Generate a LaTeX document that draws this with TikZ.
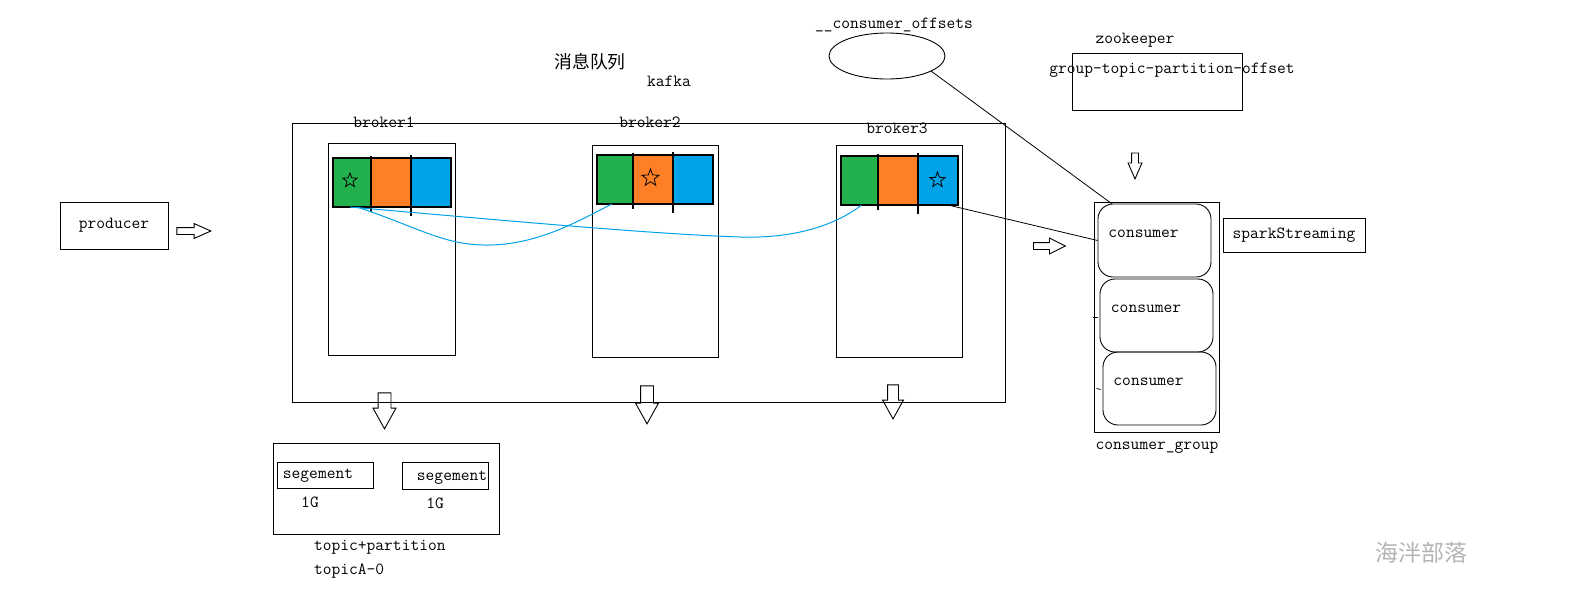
\documentclass[tikz,border=0pt]{standalone}
\usepackage{fontspec}
\newfontfamily\cjk{Noto Sans CJK SC}
\usetikzlibrary{arrows.meta, positioning, shapes.geometric, shapes.arrows}
\definecolor{kgreen}{HTML}{22B14C}
\definecolor{korange}{HTML}{FF7F27}
\definecolor{kblue}{HTML}{00A2E8}
\definecolor{markgray}{HTML}{B4B4B4}

\begin{document}
\begin{tikzpicture}[x=1pt, y=-1pt,
    txt/.style={inner sep=0pt, font=\ttfamily\fontsize{17}{19}\selectfont},
    box/.style={draw, line width=1pt, inner sep=0pt, font=\ttfamily\fontsize{17}{19}\selectfont},
    cell/.style={draw, line width=1.2pt, minimum width=40, minimum height=49, inner sep=0pt, outer sep=0pt},
    cons/.style={draw, line width=0.9pt, rounded corners=15pt, minimum width=113, minimum height=73},
    hollow/.style={draw, line width=0.9pt, single arrow},
    starmark/.style={draw, star, star points=5, star point ratio=2.4, inner sep=0pt, line width=0.8pt}]
    \useasboundingbox (0,0) rectangle (1574,603);

    % producer
    \node[box, minimum width=108, minimum height=47] (prod) at (114,225.5) {producer};
    \node[hollow, inner sep=3pt, minimum height=34, single arrow head extend=4pt, single arrow tip angle=48] (prodarr) at (190,231) {};

    % kafka cluster
    \node[{font=\cjk\fontsize{17.8}{20}\selectfont}, inner sep=0pt] (mq) at (590,62) {消息队列};
    \node[txt] (kafka) at (669,81) {kafka};
    \node[box, minimum width=713, minimum height=279] (cluster) at (648.5,262.5) {};

    \node[box, minimum width=127, minimum height=212] (br1) at (392,249) {};
    \node[box, minimum width=126, minimum height=212] (br2) at (655,251) {};
    \node[box, minimum width=126, minimum height=212] (br3) at (899,251) {};
    \node[txt] (br1lbl) at (384,122) {broker1};
    \node[txt] (br2lbl) at (650,122) {broker2};
    \node[txt] (br3lbl) at (897,128) {broker3};

    % partitions
    \node[cell, fill=kgreen, minimum width=38] (g1) at (352,182.5) {};
    \node[cell, fill=korange, right=0pt of g1] (o1) {};
    \node[cell, fill=kblue, right=0pt of o1] (b1) {};
    \node[cell, fill=kgreen, minimum width=36] (g2) at (615,179.5) {};
    \node[cell, fill=korange, right=0pt of g2] (o2) {};
    \node[cell, fill=kblue, right=0pt of o2] (b2) {};
    \node[cell, fill=kgreen, minimum width=37] (g3) at (859.5,180.5) {};
    \node[cell, fill=korange, right=0pt of g3] (o3) {};
    \node[cell, fill=kblue, right=0pt of o3] (b3) {};
    \foreach \k in {1,2,3} {
        \draw[line width=1.2pt] ([yshift=2pt]o\k.north west) -- ([yshift=-5pt]o\k.south west);
        \draw[line width=1.2pt] ([yshift=3pt]b\k.north west) -- ([yshift=-9pt]b\k.south west);
    }
    \node[starmark, minimum size=15] (s1) at (350,180.5) {};
    \node[starmark, minimum size=18] (s2) at (650.5,178) {};
    \node[starmark, minimum size=16] (s3) at (937.5,180) {};

    % replicas
    \draw[kblue, line width=1pt] ([xshift=-2pt]g1.south) .. controls (500,220) and (650,234) .. (740,237)
        .. controls (800,239) and (840,222) .. ([xshift=2pt]g3.south);
    \draw[kblue, line width=1pt] ([xshift=5pt]g1.south) .. controls (420,228) and (445,246) .. (490,245)
        .. controls (540,244) and (580,220) .. ([xshift=-3pt]g2.south);

    \node[hollow, inner sep=6pt, minimum height=36, single arrow head extend=5pt, single arrow tip angle=58, shape border rotate=270] (down1) at (384.5,405) {};
    \node[hollow, inner sep=6pt, minimum height=38, single arrow head extend=5pt, single arrow tip angle=58, shape border rotate=270] (down2) at (647,399) {};
    \node[hollow, inner sep=5pt, minimum height=34, single arrow head extend=5pt, single arrow tip angle=58, shape border rotate=270] (down3) at (893,397) {};

    % segments
    \node[box, minimum width=226, minimum height=91] (seg) at (386,488.5) {};
    \node[box, minimum width=96, minimum height=26] (seg1) at (325,475) {};
    \node[box, minimum width=86, minimum height=27] (seg2) at (445,475.5) {};
    \node[txt] (seg1lbl) at (318,476) {segement};
    \node[txt] (seg2lbl) at (452,478) {segement};
    \node[txt] (size1) at (310,502) {1G};
    \node[txt] (size2) at (435,503) {1G};
    \node[txt, anchor=west] (tp) at (314,547) {topic+partition};
    \node[txt, anchor=west] (tpa) at (314,571) {topicA-0};

    % offsets
    \node[txt] (offslbl) at (894,25) {\_\_consumer\_offsets};
    \node[draw, ellipse, line width=0.9pt, minimum width=116, minimum height=46, inner sep=0pt] (offs) at (887,56) {};
    \node[txt] (zklbl) at (1135,40) {zookeeper};
    \node[box, minimum width=170, minimum height=57] (zk) at (1157,81.5) {};
    \node[txt] (zktxt) at (1172,70) {group-topic-partition-offset};
    \node[hollow, inner sep=3pt, minimum height=26, single arrow head extend=3.5pt, single arrow tip angle=47, shape border rotate=270] (zkarr) at (1135,162) {};

    % consumers
    \node[hollow, inner sep=3pt, minimum height=32, single arrow head extend=4.5pt, single arrow tip angle=53] (grparr) at (1046,246) {};
    \node[box, minimum width=125, minimum height=230] (grp) at (1156.5,317) {};
    \node[cons] (c1) at (1154.5,240.5) {};
    \node[cons] (c2) at (1156.5,315.5) {};
    \node[cons] (c3) at (1159.5,388.5) {};
    \node[txt] (c1lbl) at (1143.5,234) {consumer};
    \node[txt] (c2lbl) at (1146,309) {consumer};
    \node[txt] (c3lbl) at (1148.5,382) {consumer};
    \node[txt] (grplbl) at (1157,448) {consumer\_group};
    \node[box, minimum width=142, minimum height=34] (spark) at (1294,235) {sparkStreaming};

    \draw[line width=0.8pt] ([xshift=-10pt]b3.south east) -- (c1.west);
    \draw[line width=0.8pt] (offs.-19) -- ([xshift=14pt]c1.north west);
    \draw[line width=0.8pt] ([xshift=-2pt,yshift=-1.5pt]c2.west) -- ++(-5,0);
    \draw[line width=0.8pt] ([xshift=-2pt,yshift=-1pt]c3.west) -- ++(-4,-1);

    \node[font=\cjk\fontsize{23}{26}\selectfont, text=markgray, inner sep=0pt] (mark) at (1421,553) {海泮部落};
\end{tikzpicture}
\end{document}
